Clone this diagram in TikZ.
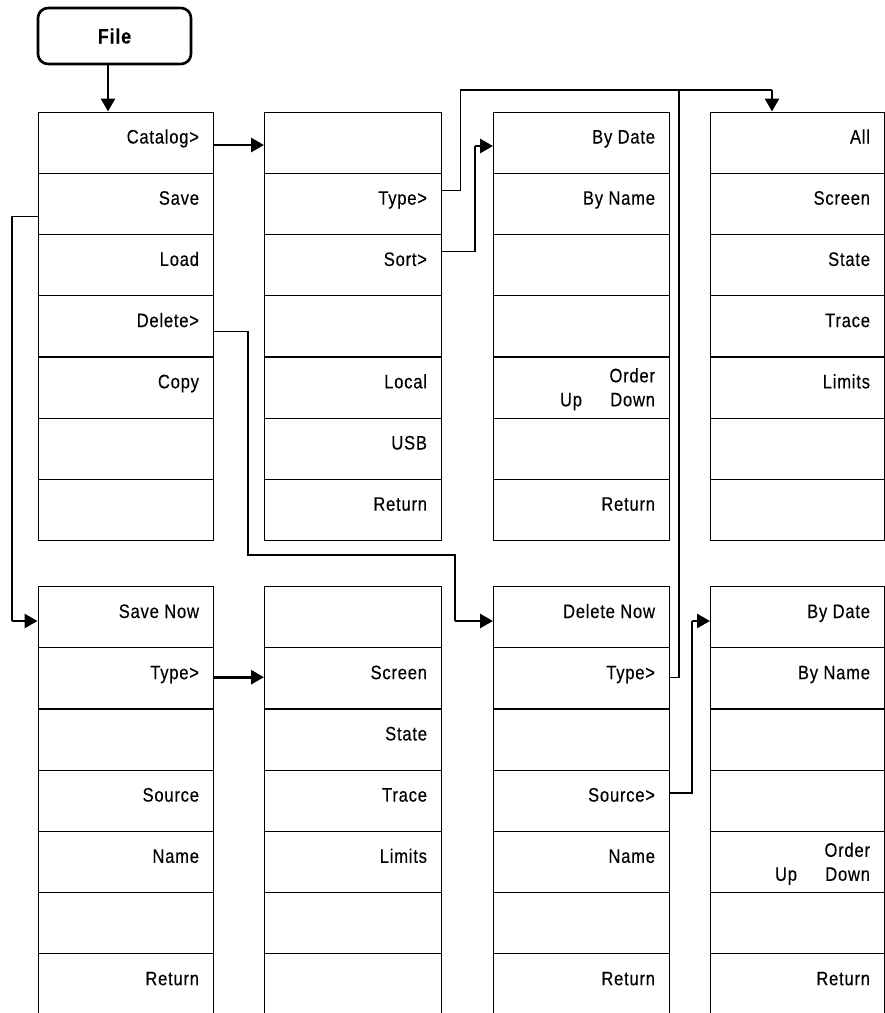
\documentclass[tikz,border=0pt]{standalone}
\usepackage{fontspec}
\setmainfont{Liberation Sans}[FakeStretch=0.85,LetterSpace=4,FakeBold=0.3]
\usetikzlibrary{arrows.meta,calc}
\begin{document}
\begin{tikzpicture}[x=1pt,y=-1pt,
  rowbox/.style={draw,line width=1.2pt,minimum width=#1,minimum height=61.2pt,inner sep=0pt,anchor=north west},
  lbl/.style={anchor=base east,inner sep=0pt,font=\fontsize{19.5}{22}\selectfont},
  conn/.style={line width=1.1pt},
  arr/.style={line width=2.8pt,-{Triangle[length=13pt,width=14pt]}},
  filebox/.style={draw,rounded corners=10pt,line width=2.6pt,minimum width=153pt,minimum height=56pt,inner sep=0pt,font=\fontsize{21}{24}\selectfont\bfseries}]
\useasboundingbox (0,0) rectangle (885,1013);
\newcommand\mkcol[5]{%
  \foreach \lab [count=\i from 0] in {#5} {
    \node[rowbox=#4] (#1\i) at (#2,{#3+\i*61.2}) {};
    \ifx\lab\empty\else
      \node[lbl] at ($(#1\i.north east)+(-15,32)$) {\lab};
    \fi
  }}
% top columns
\mkcol{A}{37.5}{111.5}{175.5pt}{Catalog>,Save,Load,Delete>,Copy,{},{}}
\mkcol{B}{264}{111.5}{177pt}{{},Type>,Sort>,{},Local,USB,Return}
\mkcol{C}{493}{111.5}{176pt}{By Date,By Name,{},{},{},{},Return}
\mkcol{D}{710}{111.5}{174pt}{All,Screen,State,Trace,Limits,{},{}}
% bottom columns
\mkcol{E}{37.5}{586}{175.5pt}{Save Now,Type>,{},Source,Name,{},Return}
\mkcol{F}{264}{586}{177pt}{{},Screen,State,Trace,Limits,{},{}}
\mkcol{G}{493}{586}{176pt}{Delete Now,Type>,{},Source>,Name,{},Return}
\mkcol{H}{710}{586}{174pt}{By Date,By Name,{},{},{},{},Return}
% Order / Up Down labels
\node[lbl] (co) at ($(C4.north east)+(-15,26)$) {Order};
\node[lbl] (cd) at ($(C4.north east)+(-15,50)$) {Down};
\node[lbl] (cu) at ($(C4.north east)+(-88,50)$) {Up};
\node[lbl] (ho) at ($(H4.north east)+(-15,26)$) {Order};
\node[lbl] (hd) at ($(H4.north east)+(-15,50)$) {Down};
\node[lbl] (hu) at ($(H4.north east)+(-88,50)$) {Up};
% File key
\node[filebox] (file) at (114.5,36) {File};
% connectors
\coordinate (fs) at ($(file.south)+(-6.5,0)$);
\draw[arr] (fs) -- (fs |- A0.north);
\draw[arr] ($(A0.north east)+(0,33.5)$) -- ($(B0.north west)+(0,33.5)$);
% Type> (catalog) and Type> (delete) -> D
\coordinate (j1) at (460.7,90);
\coordinate (j2) at (679,90);
\coordinate (j3) at (772,90);
\draw[conn] ($(B1.north east)+(0,18)$) -| (j1) -- (j3);
\draw[arr] (j3) -- (j3 |- D0.north);
\draw[conn] ($(G1.north east)+(0,30)$) -| (j2);
% Sort> -> C
\coordinate (k1) at (475,146);
\draw[conn] ($(B2.north east)+(0,18)$) -| (k1);
\draw[arr] (k1) -- (k1 -| C0.west);
% Save -> E
\coordinate (s1) at (12,621);
\draw[conn] ($(A1.north west)+(0,44)$) -| (s1);
\draw[arr] (s1) -- (s1 -| E0.west);
% Delete> -> G
\coordinate (d1) at (248,555);
\coordinate (d2) at (455,621);
\draw[conn] ($(A3.north east)+(0,36)$) -| (d1) -| (d2);
\draw[arr] (d2) -- (d2 -| G0.west);
% Type> (save) -> F
\draw[arr] ($(E1.north east)+(0,30)$) -- ($(F1.north west)+(0,30)$);
% Source> -> H
\coordinate (q1) at (692,621);
\draw[conn] ($(G3.north east)+(0,23.4)$) -| (q1);
\draw[arr] (q1) -- (q1 -| H0.west);
\end{tikzpicture}
\end{document}
